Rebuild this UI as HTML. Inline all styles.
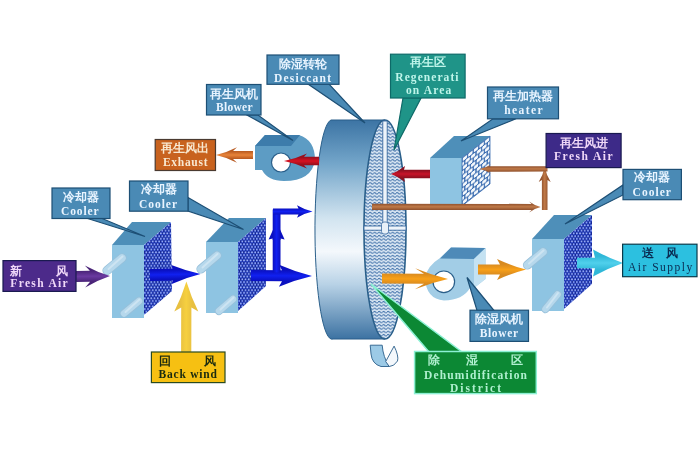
<!DOCTYPE html>
<html><head><meta charset="utf-8">
<style>
html,body{margin:0;padding:0;background:#fff;width:700px;height:451px;overflow:hidden}
svg{display:block;filter:blur(0.35px)}
.cn{font-family:"Liberation Serif",serif;font-weight:600}
.en{font-family:"Liberation Serif",serif;font-weight:bold}
</style></head><body>
<svg width="700" height="451" viewBox="0 0 700 451">
<defs>
  <pattern id="dots" width="3.2" height="5.4" patternUnits="userSpaceOnUse">
    <rect width="3.2" height="5.4" fill="#16268e"/>
    <circle cx="0.8" cy="1.35" r="1.35" fill="#3a5ae2"/>
    <circle cx="2.4" cy="4.05" r="1.35" fill="#3a5ae2"/>
    <circle cx="0.8" cy="1.2" r="0.65" fill="#dce8ff"/>
    <circle cx="2.4" cy="3.9" r="0.65" fill="#dce8ff"/>
  </pattern>
  <pattern id="waves" width="4.5" height="3.3" patternUnits="userSpaceOnUse">
    <rect width="4.5" height="3.3" fill="#dce8f4"/>
    <path d="M0 1.9 Q1.125 0.5 2.25 1.9 T4.5 1.9" fill="none" stroke="#4272aa" stroke-width="1.1"/>
  </pattern>
  <pattern id="bricks" width="5.6" height="8.6" patternUnits="userSpaceOnUse" patternTransform="translate(462 158) skewY(-38)">
    <rect width="5.6" height="8.6" fill="#3a6cb0"/>
    <rect x="0.6" y="0.5" width="4.4" height="3.3" rx="1" fill="#f4f8fc"/>
    <rect x="-2.2" y="4.8" width="4.4" height="3.3" rx="1" fill="#f4f8fc"/>
    <rect x="3.4" y="4.8" width="4.4" height="3.3" rx="1" fill="#f4f8fc"/>
  </pattern>
  <linearGradient id="wheelside" x1="0" y1="0" x2="0" y2="1">
    <stop offset="0" stop-color="#3c74a4"/>
    <stop offset="0.2" stop-color="#74a6ca"/>
    <stop offset="0.45" stop-color="#d2e4f0"/>
    <stop offset="0.6" stop-color="#f4f8fc"/>
    <stop offset="0.75" stop-color="#b8d2e6"/>
    <stop offset="1" stop-color="#3c72a2"/>
  </linearGradient>
  <linearGradient id="pipe" x1="0" y1="0" x2="1" y2="1">
    <stop offset="0" stop-color="#9cc6de"/>
    <stop offset="0.5" stop-color="#dceef8"/>
    <stop offset="1" stop-color="#a8cfe4"/>
  </linearGradient>
<!--ARROWDEFS-->
<linearGradient id="gPur" gradientUnits="userSpaceOnUse" x1="76.2" y1="287.5" x2="75.8" y2="265.5"><stop offset="0.25" stop-color="#4a2478"/><stop offset="0.5" stop-color="#6a3aa0"/><stop offset="0.75" stop-color="#4a2478"/></linearGradient>
<linearGradient id="gB1" gradientUnits="userSpaceOnUse" x1="150.2" y1="284.5" x2="149.8" y2="265.5"><stop offset="0.25" stop-color="#0a10c0"/><stop offset="0.5" stop-color="#1020f0"/><stop offset="0.75" stop-color="#0a10c0"/></linearGradient>
<linearGradient id="gY" gradientUnits="userSpaceOnUse" x1="198.2" y1="352.0" x2="174.2" y2="352.0"><stop offset="0.25" stop-color="#e8c040"/><stop offset="0.5" stop-color="#f6d040"/><stop offset="0.75" stop-color="#e8c040"/></linearGradient>
<linearGradient id="gB2" gradientUnits="userSpaceOnUse" x1="250.9" y1="286.5" x2="251.1" y2="264.5"><stop offset="0.25" stop-color="#0a10c0"/><stop offset="0.5" stop-color="#1020f0"/><stop offset="0.75" stop-color="#0a10c0"/></linearGradient>
<linearGradient id="gBv" gradientUnits="userSpaceOnUse" x1="284.6" y1="240.0" x2="268.6" y2="240.0"><stop offset="0.25" stop-color="#0a10c0"/><stop offset="0.5" stop-color="#1020f0"/><stop offset="0.75" stop-color="#0a10c0"/></linearGradient>
<linearGradient id="gBt" gradientUnits="userSpaceOnUse" x1="273.0" y1="217.7" x2="273.0" y2="205.3"><stop offset="0.25" stop-color="#0a10c0"/><stop offset="0.5" stop-color="#1020f0"/><stop offset="0.75" stop-color="#0a10c0"/></linearGradient>
<linearGradient id="gR1" gradientUnits="userSpaceOnUse" x1="319.0" y1="153.5" x2="319.0" y2="168.5"><stop offset="0.25" stop-color="#98101e"/><stop offset="0.5" stop-color="#d81222"/><stop offset="0.75" stop-color="#98101e"/></linearGradient>
<linearGradient id="gEx" gradientUnits="userSpaceOnUse" x1="253.0" y1="147.3" x2="253.0" y2="162.7"><stop offset="0.25" stop-color="#b85a20"/><stop offset="0.5" stop-color="#e8843a"/><stop offset="0.75" stop-color="#b85a20"/></linearGradient>
<linearGradient id="gR2" gradientUnits="userSpaceOnUse" x1="430.0" y1="166.0" x2="430.0" y2="182.0"><stop offset="0.25" stop-color="#8a1020"/><stop offset="0.5" stop-color="#c8142a"/><stop offset="0.75" stop-color="#8a1020"/></linearGradient>
<linearGradient id="gBr1" gradientUnits="userSpaceOnUse" x1="372.0" y1="212.3" x2="372.0" y2="201.3"><stop offset="0.25" stop-color="#955530"/><stop offset="0.5" stop-color="#c07a48"/><stop offset="0.75" stop-color="#955530"/></linearGradient>
<linearGradient id="gBr2" gradientUnits="userSpaceOnUse" x1="550.7" y1="210.0" x2="538.7" y2="210.0"><stop offset="0.25" stop-color="#955530"/><stop offset="0.5" stop-color="#c07a48"/><stop offset="0.75" stop-color="#955530"/></linearGradient>
<linearGradient id="gBr3" gradientUnits="userSpaceOnUse" x1="547.5" y1="164.1" x2="547.5" y2="173.7"><stop offset="0.25" stop-color="#955530"/><stop offset="0.5" stop-color="#c07a48"/><stop offset="0.75" stop-color="#955530"/></linearGradient>
<linearGradient id="gO1" gradientUnits="userSpaceOnUse" x1="381.9" y1="289.0" x2="382.1" y2="268.0"><stop offset="0.25" stop-color="#d88a20"/><stop offset="0.5" stop-color="#f8a018"/><stop offset="0.75" stop-color="#d88a20"/></linearGradient>
<linearGradient id="gO2" gradientUnits="userSpaceOnUse" x1="478.0" y1="280.0" x2="478.0" y2="259.0"><stop offset="0.25" stop-color="#d88a20"/><stop offset="0.5" stop-color="#f8a018"/><stop offset="0.75" stop-color="#d88a20"/></linearGradient>
<linearGradient id="gCy" gradientUnits="userSpaceOnUse" x1="577.0" y1="276.5" x2="577.0" y2="249.5"><stop offset="0.25" stop-color="#30b8d8"/><stop offset="0.5" stop-color="#50d0ec"/><stop offset="0.75" stop-color="#30b8d8"/></linearGradient>
<linearGradient id="gBvs" x1="0" y1="0" x2="1" y2="0"><stop offset="0" stop-color="#0a10c0"/><stop offset="0.5" stop-color="#1020f0"/><stop offset="1" stop-color="#0a10c0"/></linearGradient>
<!--/ARROWDEFS-->
</defs>

<!-- ============ WHEEL ============ -->
<path d="M331 120 L385 120 L385 339 L333 339 A17 109.5 0 0 1 331 120 Z" fill="url(#wheelside)" stroke="#2a5f8a" stroke-width="1"/>
<ellipse cx="385" cy="229.5" rx="21" ry="109.5" fill="url(#waves)" stroke="#2a5f8a" stroke-width="1.6"/>
<rect x="382.8" y="121" width="4.4" height="105" fill="#eef4fa" stroke="#3a6aa0" stroke-width="0.9"/>
<rect x="364" y="226" width="42" height="4.2" fill="#eef4fa" stroke="#3a6aa0" stroke-width="0.9"/>
<rect x="381.5" y="222" width="7" height="12" rx="2.5" fill="#e8f0f8" stroke="#3a6aa0" stroke-width="0.8"/>

<!-- belt -->
<path d="M370.2 345.2 L382.2 345.2 Q383 357 389.3 366.5 L381 366.5 Q372 364 371 354 Z" fill="#9ccae6" stroke="#2a5f8a" stroke-width="0.9"/>
<path d="M385.7 361.6 L394.1 346.1 Q399 356 397.5 361 Q394 366.5 389.3 366.5 Z" fill="#f4f8fc" stroke="#2a5f8a" stroke-width="0.9"/>

<!-- ============ COOLERS ============ -->
<g>
  <polygon points="112,245 144,245 171,222 132,222" fill="#4e8fb9"/>
  <rect x="112" y="245" width="32" height="73" fill="#8ec4e2"/>
  <polygon points="144,245 171,222 172,291 144,315" fill="url(#dots)"/>
</g>
<g>
  <polygon points="206,242 238,242 266,218 229,218" fill="#4e8fb9"/>
  <rect x="206" y="242" width="32" height="71" fill="#8ec4e2"/>
  <polygon points="238,242 266,218 266,286 238,311" fill="url(#dots)"/>
</g>
<g>
  <polygon points="532,239 564,239 592,215 554,215" fill="#4e8fb9"/>
  <rect x="532" y="239" width="32" height="72" fill="#8ec4e2"/>
  <polygon points="564,239 592,215 592,284 564,309" fill="url(#dots)"/>
</g>


<!-- pipes -->
<line x1="107" y1="270.5" x2="122" y2="258" stroke="#98c0da" stroke-width="9.2" stroke-linecap="round"/><line x1="107" y1="270.5" x2="122" y2="258" stroke="#b6d8ec" stroke-width="7.5" stroke-linecap="round"/><line x1="108.5" y1="269.0" x2="122.5" y2="256.5" stroke="#cde4f2" stroke-width="2" stroke-linecap="round"/>
<line x1="124" y1="313.5" x2="139" y2="301" stroke="#98c0da" stroke-width="8.2" stroke-linecap="round"/><line x1="124" y1="313.5" x2="139" y2="301" stroke="#b6d8ec" stroke-width="6.5" stroke-linecap="round"/><line x1="125.5" y1="312.0" x2="139.5" y2="299.5" stroke="#cde4f2" stroke-width="2" stroke-linecap="round"/>
<line x1="201" y1="269" x2="217" y2="255.5" stroke="#98c0da" stroke-width="9.2" stroke-linecap="round"/><line x1="201" y1="269" x2="217" y2="255.5" stroke="#b6d8ec" stroke-width="7.5" stroke-linecap="round"/><line x1="202.5" y1="267.5" x2="217.5" y2="254.0" stroke="#cde4f2" stroke-width="2" stroke-linecap="round"/>
<line x1="219" y1="311" x2="233" y2="299" stroke="#98c0da" stroke-width="8.2" stroke-linecap="round"/><line x1="219" y1="311" x2="233" y2="299" stroke="#b6d8ec" stroke-width="6.5" stroke-linecap="round"/><line x1="220.5" y1="309.5" x2="233.5" y2="297.5" stroke="#cde4f2" stroke-width="2" stroke-linecap="round"/>
<line x1="527.5" y1="265" x2="543" y2="252" stroke="#98c0da" stroke-width="9.2" stroke-linecap="round"/><line x1="527.5" y1="265" x2="543" y2="252" stroke="#b6d8ec" stroke-width="7.5" stroke-linecap="round"/><line x1="529.0" y1="263.5" x2="543.5" y2="250.5" stroke="#cde4f2" stroke-width="2" stroke-linecap="round"/>
<line x1="545.5" y1="309" x2="557.5" y2="294.5" stroke="#98c0da" stroke-width="8.2" stroke-linecap="round"/><line x1="545.5" y1="309" x2="557.5" y2="294.5" stroke="#b6d8ec" stroke-width="6.5" stroke-linecap="round"/><line x1="547.0" y1="307.5" x2="558.0" y2="293.0" stroke="#cde4f2" stroke-width="2" stroke-linecap="round"/>
<!-- ============ HEATER ============ -->
<polygon points="430,158 462,158 490,136 454,136" fill="#4e8fb9"/>
<rect x="430" y="158" width="32" height="48" fill="#8ec4e2"/>
<polygon points="462,158 490,136 490,184 462,206" fill="url(#bricks)" stroke="#3a6cb0" stroke-width="0.8"/>

<!-- ============ BLOWERS ============ -->
<path d="M255 146 L265 135 L299 135 Q315 140 315 160 Q312 181 284 181 Q268 181 262 170 L255 170 Z" fill="#5d9cc4"/>
<polygon points="255,146 265,135 300,135 291,146" fill="#3d7cab"/>
<circle cx="281" cy="162.5" r="9.5" fill="#fff" stroke="#2a5f8a" stroke-width="1.2"/>

<path d="M451 247.5 L485.5 248 L485.5 279 L474 288 L470 288 Q463 300 444 300.5 Q426 299 425 278 Q427 266 440 258 Z" fill="#a2cde6"/>
<polygon points="451,247.5 485.5,248 474,259 440,258.5" fill="#4e8ab8"/>
<polygon points="474,259 485.5,248 485.5,279 474,288" fill="#c4e2f2"/>
<circle cx="443.8" cy="281.8" r="10.8" fill="#fff" stroke="#2a5f8a" stroke-width="1.2"/>

<!-- ============ ARROWS ============ -->
<path d="M76.1 282.0 L90.1 281.8 L85.2 287.4 Q97.6 280.2 110.0 276.0 Q97.4 272.2 84.8 265.4 L89.9 270.8 L75.9 271.0 Z" fill="url(#gPur)"/>
<path d="M150.1 281.0 L172.6 280.6 L171.7 284.1 Q186.1 277.5 200.5 274.0 Q185.9 271.0 171.3 265.1 L172.4 268.6 L149.9 269.0 Z" fill="url(#gB1)"/>
<path d="M191.3 352.0 L191.4 307.5 L198.3 311.5 Q190.9 296.5 186.4 281.5 Q181.9 296.5 174.3 311.5 L181.2 307.5 L181.1 352.0 Z" fill="url(#gY)"/>
<path d="M251.0 281.0 L282.0 281.3 L278.9 286.7 Q295.5 279.9 312.0 276.0 Q295.5 271.9 279.1 264.7 L282.0 270.3 L251.0 270.0 Z" fill="url(#gB2)"/>
<path d="M280.5 240.0 L280.5 238.5 L284.6 239.5 Q279.1 229.0 276.6 218.5 Q274.1 229.0 268.6 239.5 L272.7 238.5 L272.7 240.0 Z" fill="url(#gBv)"/>
<rect x="272.7" y="209.5" width="7.8" height="63" fill="url(#gBvs)"/>
<path d="M273.0 214.4 L298.5 214.4 L297.0 217.7 Q304.8 213.1 312.5 211.5 Q304.8 209.9 297.0 205.3 L298.5 208.6 L273.0 208.6 Z" fill="url(#gBt)"/>
<path d="M319.0 156.8 L304.0 156.8 L307.0 153.5 Q295.5 158.8 284.0 161.0 Q295.5 163.2 307.0 168.5 L304.0 165.2 L319.0 165.2 Z" fill="url(#gR1)"/>
<path d="M253.0 151.0 L233.0 151.0 L237.0 147.3 Q226.5 152.7 216.0 155.0 Q226.5 157.3 237.0 162.7 L233.0 159.0 L253.0 159.0 Z" fill="url(#gEx)"/>
<path d="M430.0 169.7 L404.0 169.7 L405.0 166.0 Q398.0 171.5 391.0 174.0 Q398.0 176.5 405.0 182.0 L404.0 178.3 L430.0 178.3 Z" fill="url(#gR2)"/>
<path d="M372.0 209.9 L531.7 210.1 L529.1 212.5 Q534.9 208.2 540.7 207.0 Q534.9 205.7 529.1 201.5 L531.7 203.9 L372.0 203.7 Z" fill="url(#gBr1)"/>
<path d="M547.5 210.0 L547.5 180.0 L550.7 182.0 Q546.2 174.5 544.7 167.0 Q543.2 174.5 538.7 182.0 L541.9 180.0 L541.9 210.0 Z" fill="url(#gBr2)"/>
<path d="M547.5 166.2 L488.4 166.3 L491.4 164.2 Q485.4 168.1 479.4 169.0 Q485.4 169.9 491.4 173.8 L488.4 171.7 L547.5 171.6 Z" fill="url(#gBr3)"/>
<path d="M382.0 283.5 L424.0 283.8 L414.9 289.2 Q431.5 282.6 448.0 279.0 Q431.5 275.1 415.1 268.3 L424.0 273.8 L382.0 273.5 Z" fill="url(#gO1)"/>
<path d="M478.0 274.5 L500.0 274.5 L497.0 280.0 Q511.5 273.2 526.0 269.5 Q511.5 265.8 497.0 259.0 L500.0 264.5 L478.0 264.5 Z" fill="url(#gO2)"/>
<path d="M577.0 268.3 L595.0 268.3 L593.0 276.5 Q608.0 268.2 623.0 263.0 Q608.0 257.8 593.0 249.5 L595.0 257.7 L577.0 257.7 Z" fill="url(#gCy)"/>

<!-- ============ LABELS ============ -->
<g fill="#4a8ab5" stroke="#1d4f75" stroke-width="1.2">
  <polygon points="86,218 101,218 145,236.5"/>
  <rect x="52" y="188" width="58" height="30.5"/>
  <polygon points="188,197.5 188,211 243.5,229.5"/>
  <rect x="129.5" y="181" width="58.5" height="30.2"/>
  <polygon points="247,115 258,115 293,140.5"/>
  <rect x="206.5" y="84.5" width="54.5" height="30.5"/>
  <polygon points="308,84 329,84 365,123"/>
  <rect x="267" y="55" width="72" height="29.3"/>
  <polygon points="493,118.8 516,118.8 461,141"/>
  <rect x="487.5" y="87" width="71" height="31.8"/>
  <polygon points="623,185 623,195 565,224"/>
  <rect x="623" y="169.4" width="58.4" height="30.3"/>
  <polygon points="477,310.5 494,310.5 467,277.5"/>
  <rect x="470" y="310.2" width="58.5" height="31.2"/>
</g>
<g fill="#1f9488" stroke="#0e6a68" stroke-width="1.2">
  <polygon points="403,98 421,98 394,150"/>
  <rect x="390.5" y="54.2" width="74.6" height="43.8"/>
</g>
<g fill="#0c8834" stroke="#8cf0d4" stroke-width="1.5">
  <polygon points="371,284 429,352 462,352"/>
  <rect x="414.6" y="351.5" width="121.7" height="42.1"/>
</g>
<rect x="155.2" y="139.5" width="60.3" height="31" fill="#c8621e" stroke="#4a3a30" stroke-width="1.2"/>
<rect x="546.1" y="133.5" width="75" height="34.1" fill="#3d2a88" stroke="#1a1a50" stroke-width="1.2"/>
<rect x="3" y="260.6" width="73" height="30.8" fill="#4c2a8a" stroke="#1a1a50" stroke-width="1.2"/>
<rect x="622.6" y="244.2" width="74.4" height="32.5" fill="#2cc0e0" stroke="#0a3a4a" stroke-width="1.2"/>
<rect x="151.4" y="352" width="73.6" height="30.6" fill="#f6c012" stroke="#2a4a20" stroke-width="1.2"/>

<!-- ============ TEXT ============ -->
<g text-anchor="middle" dominant-baseline="central" font-size="12">
  <g fill="#e8f4ff" class="cn">
    <text x="81" y="196.5">冷却器</text>
    <text x="158.7" y="189.2">冷却器</text>
    <text x="234" y="93.8">再生风机</text>
    <text x="303.1" y="63.7">除湿转轮</text>
    <text x="523.1" y="96.3">再生加热器</text>
    <text x="652" y="177.4">冷却器</text>
    <text x="499.4" y="319.1">除湿风机</text>
  </g>
  <g fill="#f8e8d0" class="cn"><text x="185" y="147.5">再生风出</text></g>
  <g fill="#f0d8f8" class="cn">
    <text x="584" y="142.7">再生风进</text>
    <text x="16.3" y="270.9">新</text>
    <text x="61.7" y="270.9">风</text>
  </g>
  <g fill="#bff5ea" class="cn"><text x="427.8" y="62">再生区</text></g>
  <g fill="#b0f0d0" class="cn">
    <text x="434" y="360.2">除</text><text x="472.2" y="360.2">湿</text><text x="516.8" y="360.2">区</text>
  </g>
  <g fill="#0a2a50" class="cn"><text x="647.8" y="253">送</text><text x="672.4" y="253">风</text></g>
  <g fill="#1a2a10" class="cn" font-weight="bold"><text x="165.2" y="361">回</text><text x="210.2" y="361">风</text></g>
</g>
<g text-anchor="start" font-size="11.5" class="en" transform="translate(0 0.8)">
  <g fill="#e8f4ff">
    <text x="61" y="214.3" textLength="37.6" lengthAdjust="spacing">Cooler</text>
    <text x="139" y="207" textLength="38" lengthAdjust="spacing">Cooler</text>
    <text x="216" y="110.5" textLength="36.5" lengthAdjust="spacing">Blower</text>
    <text x="274" y="81.1" textLength="57" lengthAdjust="spacing">Desiccant</text>
    <text x="504.3" y="113.1" textLength="38.3" lengthAdjust="spacing">heater</text>
    <text x="632.6" y="195.1" textLength="38.3" lengthAdjust="spacing">Cooler</text>
    <text x="479.7" y="336.3" textLength="38.3" lengthAdjust="spacing">Blower</text>
  </g>
  <text fill="#f8e8d0" x="163" y="165" textLength="44.5" lengthAdjust="spacing">Exhaust</text>
  <g fill="#f0d8f8">
    <text x="554.1" y="159.3" textLength="58.4" lengthAdjust="spacing">Fresh Air</text>
    <text x="10.3" y="286.6" textLength="57.4" lengthAdjust="spacing">Fresh Air</text>
  </g>
  <g fill="#bff5ea">
    <text x="395.3" y="80.4" textLength="63.2" lengthAdjust="spacing">Regenerati</text>
    <text x="406" y="93.7" textLength="45.2" lengthAdjust="spacing">on Area</text>
  </g>
  <g fill="#b0f0d0">
    <text x="424" y="377.9" textLength="103" lengthAdjust="spacing">Dehumidification</text>
    <text x="450" y="391.2" textLength="51" lengthAdjust="spacing">District</text>
  </g>
  <text fill="#0a2a50" x="628" y="269.8" textLength="64.2" lengthAdjust="spacing" font-weight="normal">Air Supply</text>
  <text fill="#1a2a10" x="158.6" y="377.5" textLength="58.2" lengthAdjust="spacing">Back wind</text>
</g>
</svg>
</body></html>
